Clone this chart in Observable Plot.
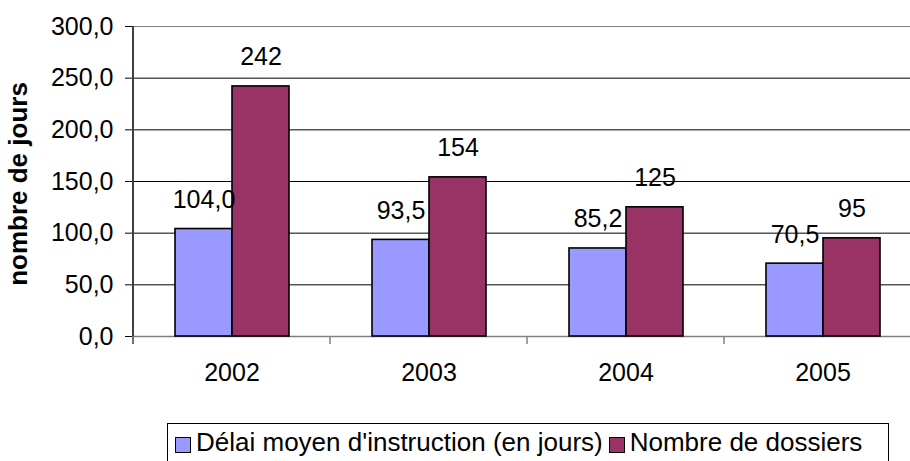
<!DOCTYPE html>
<html><head><meta charset="utf-8">
<script src="https://cdn.jsdelivr.net/npm/d3@7"></script>
<script src="https://cdn.jsdelivr.net/npm/@observablehq/plot@0.6"></script>
<style>
html,body{margin:0;padding:0;background:#fff;overflow:hidden;width:910px;height:461px}
#wrap{position:relative;width:910px;height:461px;font-family:"Liberation Sans",Arial,sans-serif}
#legend{position:absolute;left:167px;top:423px;width:722px;height:46px;border:1px solid #000;box-sizing:border-box;
  display:flex;align-items:flex-start;padding-top:3px;padding-left:7px;font-size:26px;color:#000;white-space:nowrap}
.sw{display:inline-block;width:14px;height:14px;border:1px solid #000;margin-right:5px;margin-top:10px}
.it{display:flex;align-items:flex-start;margin-right:6px}
</style>
</head><body><div id="wrap"><div id="chart"></div><div id="legend"></div></div>
<script>
const years = ["2002", "2003", "2004", "2005"];
const delai = [104.0, 93.5, 85.2, 70.5];
const dossiers = [242, 154, 125, 95];
const seriesNames = ["Délai moyen d'instruction (en jours)", "Nombre de dossiers"];
const colors = ["#9999FF", "#993366"];
const yTicks = [0, 50, 100, 150, 200, 250, 300];
const yTitle = "nombre de jours";

const fmt1 = d => d.toFixed(1).replace(".", ",");
const rows = [];
years.forEach((y, i) => {
  rows.push({year: y, series: seriesNames[0], value: delai[i], label: fmt1(delai[i])});
  rows.push({year: y, series: seriesNames[1], value: dossiers[i], label: String(dossiers[i])});
});

const chart = Plot.plot({
  width: 921,
  height: 410,
  marginLeft: 132,
  marginRight: 0,
  marginTop: 26,
  marginBottom: 74,
  style: {fontFamily: "'Liberation Sans', Arial, sans-serif", maxWidth: "none", overflow: "visible", background: "transparent"},
  fx: {domain: years, paddingInner: 0, paddingOuter: 0, label: null},
  x: {domain: seriesNames, paddingInner: 0, paddingOuter: 0.728, axis: null},
  y: {domain: [0, 300], label: null},
  color: {domain: seriesNames, range: colors},
  marks: [
    Plot.ruleY(yTicks.filter(d => d > 0 && d < 300), {stroke: "#000", strokeWidth: 1}),
    Plot.ruleY([300], {stroke: "#808080", strokeWidth: 1}),
    Plot.ruleY([0], {stroke: "#808080", strokeWidth: 1.5}),
    Plot.barY(rows, {fx: "year", x: "series", y: "value", fill: "series", stroke: "#000", strokeWidth: 1.6}),
    Plot.text(rows, {fx: "year", x: "series", y: "value", text: "label", dy: -29, fontSize: 25, fill: "#000"}),
    Plot.axisY(yTicks, {tickSize: 8, tickPadding: 12, tickFormat: fmt1, fontSize: 25, label: null, stroke: "#000", fill: "#000"}),
    Plot.axisFx({anchor: "bottom", tickSize: 0, tickPadding: 27, fontSize: 25, label: null, fill: "#000"})
  ]
});

const svg = d3.select(chart);
const fx = chart.scale("fx");
const y = chart.scale("y");
// y axis line
svg.append("line").attr("x1", fx.apply(years[0])).attr("x2", fx.apply(years[0]))
  .attr("y1", y.apply(300)).attr("y2", y.apply(0) + 8).attr("stroke", "#404040").attr("stroke-width", 2);
// category boundary ticks
years.forEach(yr => {
  const xx = fx.apply(yr);
  svg.append("line").attr("x1", xx).attr("x2", xx).attr("y1", y.apply(0)).attr("y2", y.apply(0) + 8)
    .attr("stroke", "#808080").attr("stroke-width", 1.5);
});
// y title
svg.append("text").attr("transform", `translate(27,${(y.apply(0) + y.apply(300)) / 2 + 3}) rotate(-90)`)
  .attr("text-anchor", "middle").attr("font-weight", "bold").attr("font-size", 26)
  .attr("font-family", "'Liberation Sans', Arial, sans-serif").attr("fill", "#000").text(yTitle);

document.getElementById("chart").appendChild(chart);

const lg = d3.select("#legend");
seriesNames.forEach((s, i) => {
  const it = lg.append("div").attr("class", "it");
  it.append("span").attr("class", "sw").style("background", colors[i]);
  it.append("span").text(s);
});
</script>
</body></html>
